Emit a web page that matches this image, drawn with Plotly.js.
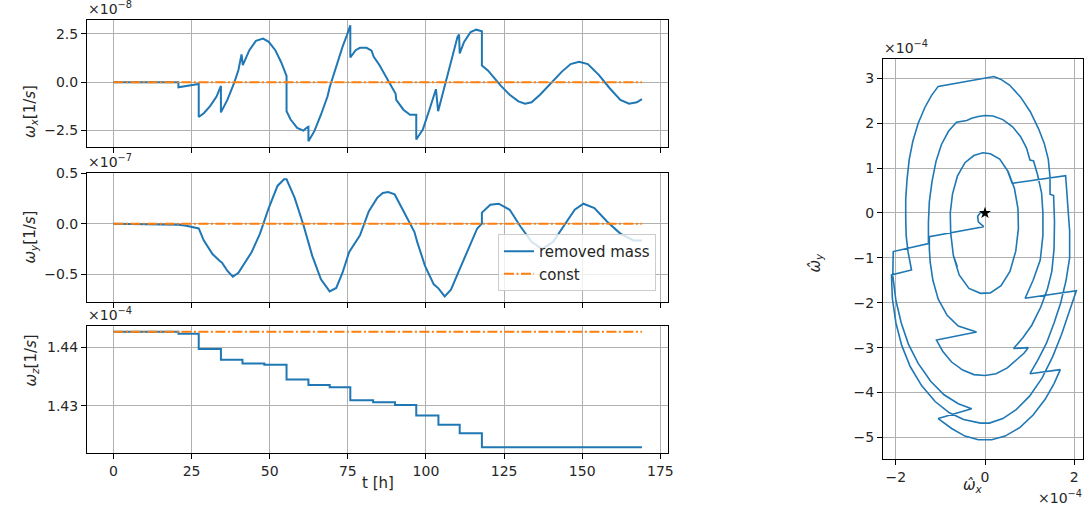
<!DOCTYPE html>
<html><head><meta charset="utf-8">
<script src="https://cdn.plot.ly/plotly-3.0.1.min.js"></script>
<style>body{margin:0;background:#fff}#plot{width:1085px;height:511px}</style>
</head><body><div id="plot"></div>
<script>
// time [h] and omega_x (x1e-8 1/s)
const tX = [0,20.8,20.8,23.3,27.3,27.3,29,31,33,34.4,34.4,36.5,38.6,40,41.0,41.4,43.5,45.6,47.9,49.7,51.8,53.6,54.6,55.4,55.4,56.7,58.8,60.8,62.0,62.4,62.4,64.3,66.4,68.5,69.2,71.2,73.3,74.7,75.8,75.8,77.5,78.9,81,82.6,83.3,85.1,87.2,89.3,90.3,90.5,92.8,94.9,96.9,96.9,99,101.1,103.2,103.9,106,108,110.1,110.6,110.8,112.2,114.3,116.1,117.9,117.9,119.9,121.9,124,126.8,129.6,131.7,133.8,136.5,140,143.5,146.3,149,151.8,155.3,158.8,162.2,165,167.5,169.1];
const wX = [0,0,-0.26,-0.19,-0.09,-1.8,-1.59,-1.22,-0.74,-0.19,-1.56,-0.9,-0.05,0.63,1.44,0.89,1.66,2.14,2.26,2.09,1.66,1.06,0.6,0.33,-1.5,-1.93,-2.36,-2.5,-2.33,-2.3,-3.05,-2.53,-1.68,-0.74,-0.26,0.8,1.83,2.43,2.95,1.28,1.66,1.78,1.78,1.63,1.32,0.89,0.29,-0.36,-0.6,-0.91,-1.42,-1.68,-1.68,-2.96,-2.45,-1.42,-0.36,-1.5,-0.22,1.06,2.35,2.47,1.49,2.09,2.6,2.72,2.64,0.86,0.6,0.21,-0.19,-0.65,-0.99,-1.11,-1.04,-0.65,-0.05,0.55,0.94,1.06,0.94,0.38,-0.31,-0.91,-1.11,-1.04,-0.87];
// omega_y (x1e-7 1/s)
const tY = [0,20.8,23.3,27.3,28.9,31.7,34.2,34.7,36.5,38.2,40,41.4,44.2,46.9,49.7,52.5,54.6,55.4,58,60.8,63.6,66.4,69.2,71.3,73.3,75.4,76.1,78.9,81.7,84.4,86.2,87.9,90,92.8,96.3,97.2,99.7,102.5,104,106,108,110.8,113.6,116.4,117.9,117.9,120.6,123.3,126.8,130.3,133.8,137.2,140.7,144.2,147.6,150.4,153.9,158,162.2,166.4,169.1];
const wY = [0,-0.01,-0.02,-0.047,-0.165,-0.30,-0.374,-0.384,-0.468,-0.525,-0.485,-0.42,-0.283,-0.098,0.155,0.374,0.44,0.44,0.256,-0.013,-0.316,-0.55,-0.67,-0.636,-0.485,-0.283,-0.249,-0.114,0.121,0.256,0.305,0.313,0.29,0.121,-0.08,-0.18,-0.417,-0.60,-0.64,-0.72,-0.653,-0.45,-0.249,-0.047,0.0,0.11,0.188,0.198,0.138,-0.03,-0.18,-0.25,-0.18,-0.013,0.138,0.198,0.155,0.02,-0.098,-0.165,-0.165];
// omega_z (x1e-4 1/s), step changes
const tZ = [0,20.8,27.3,34.4,41.3,48.3,55.4,62.4,69.2,75.8,83.1,90.1,96.9,104.0,110.8,117.9,169.1];
const wZ = [1.44269,1.44234,1.43971,1.43789,1.43726,1.43703,1.43451,1.43354,1.43314,1.43091,1.43057,1.43011,1.42829,1.42674,1.42526,1.42286,1.42286];
// constant reference
const tC = [0,169.1];
const cXY = [0,0];
const cZ = [1.44269,1.44269];
// normalized trajectory omega_hat (x1e-4), read segment by segment between mass-removal events
const pX = [0,-0.10,-0.165,-0.15,-0.03,
 -1.25,-1.25,-1.23,-1.17,-1.05,-0.85,-0.60,-0.19,
 -1.09,-0.95,-0.75,-0.50,-0.25,0,0.25,0.50,0.72,0.88,0.97,
 0.64,0.85,1.05,1.25,1.40,1.50,1.55,1.56,1.54,
 1.46,1.46,1.42,1.33,1.20,1.02,0.80,0.55,0.35,0.20,
 -1.05,-1.20,-1.35,-1.50,-1.62,-1.70,-1.75,-1.78,-1.78,-1.77,-1.73,-1.69,-1.65,
 -2.10,-2.08,-2.00,-1.87,-1.68,-1.42,-1.12,-0.80,-0.48,-0.19,
 -0.10,0.10,0.40,0.70,1.00,1.28,1.52,1.72,1.87,1.97,2.05,
 0.90,1.08,1.24,1.30,1.30,1.27,1.18,1.09,
 1.01,0.93,0.80,0.62,0.40,0.18,0,-0.15,-0.30,
 -0.41,-0.64,-0.82,-0.98,-1.10,-1.19,-1.25,-1.27,-1.27,
 -2.06,-2.07,-2.00,-1.88,-1.72,-1.50,-1.22,-0.92,-0.60,-0.30,
 -1.05,-0.75,-0.45,-0.15,0.15,0.45,0.78,1.08,1.35,1.55,1.69,
 1.01,1.20,1.38,1.55,1.70,1.82,1.90,1.90,1.86,1.81,
 0.61,0.50,0.33,0.12,-0.05,-0.25,-0.45,-0.62,-0.73,-0.78,-0.77,-0.71,-0.58,-0.36,-0.10,0.12,0.36,0.56,0.69,0.75,0.74,0.66,
 0.52,0.33,0.12,-0.05,-0.25,-0.45,-0.62,-0.73,-0.78,-0.77,-0.71,-0.62];
const pY = [0,0.01,-0.07,-0.20,-0.305,
 -0.53,-0.80,-1.10,-1.50,-1.92,-2.28,-2.52,-2.65,
 -2.83,-3.08,-3.32,-3.50,-3.60,-3.62,-3.58,-3.45,-3.27,-3.12,-3.00,
 -3.02,-2.78,-2.50,-2.10,-1.70,-1.30,-0.80,-0.20,0.39,
 0.42,0.80,1.20,1.55,1.88,2.25,2.58,2.85,2.98,3.04,
 2.82,2.62,2.35,2.00,1.60,1.20,0.75,0.30,-0.10,-0.50,-0.85,-1.05,-1.27,
 -1.38,-1.90,-2.45,-2.95,-3.42,-3.85,-4.20,-4.45,-4.60,-4.66,
 -4.68,-4.68,-4.58,-4.38,-4.08,-3.68,-3.20,-2.70,-2.25,-1.95,-1.73,
 -1.90,-1.50,-1.05,-0.50,0.0,0.45,0.85,1.16,
 1.18,1.45,1.70,1.92,2.08,2.16,2.17,2.15,2.11,
 2.06,2.02,1.82,1.52,1.15,0.70,0.25,-0.20,-0.68,
 -0.86,-1.40,-1.95,-2.45,-2.92,-3.35,-3.75,-4.05,-4.25,-4.36,
 -4.58,-4.80,-4.97,-5.05,-5.05,-4.97,-4.78,-4.50,-4.15,-3.80,-3.49,
 -3.58,-3.25,-2.90,-2.45,-2.00,-1.50,-1.00,-0.40,0.20,0.83,
 0.66,0.95,1.20,1.32,1.34,1.28,1.12,0.82,0.42,0.0,-0.45,-0.95,-1.38,-1.68,-1.79,-1.78,-1.62,-1.30,-0.85,-0.35,0.10,0.55,
 0.92,1.20,1.32,1.34,1.28,1.12,0.82,0.42,0.0,-0.45,-0.95,-1.20];
const startX = [0], startY = [0];

const BLUE='#1f77b4', ORANGE='#ff7f0e';
const F = {family:'DejaVu Sans, sans-serif', size:14, color:'#262626'};
const FT = {family:'DejaVu Sans, sans-serif', size:15, color:'#262626'};
const W=1085,H=511;
const px = v=>v/W, py = v=>1-v/H;
const dd = '10px,2.5px,2px,2.5px';
const traces = [
 {x:tX,y:wX,xaxis:'x',yaxis:'y',mode:'lines',line:{color:BLUE,width:2},showlegend:false},
 {x:tC,y:cXY,xaxis:'x',yaxis:'y',mode:'lines',line:{color:ORANGE,width:2,dash:dd},showlegend:false},
 {x:tY,y:wY,xaxis:'x2',yaxis:'y2',mode:'lines',line:{color:BLUE,width:2},name:'removed mass'},
 {x:tC,y:cXY,xaxis:'x2',yaxis:'y2',mode:'lines',line:{color:ORANGE,width:2,dash:dd},name:'const'},
 {x:tZ,y:wZ,xaxis:'x3',yaxis:'y3',mode:'lines',line:{color:BLUE,width:2,shape:'hv'},showlegend:false},
 {x:tC,y:cZ,xaxis:'x3',yaxis:'y3',mode:'lines',line:{color:ORANGE,width:2,dash:dd},showlegend:false},
 {x:pX,y:pY,xaxis:'x4',yaxis:'y4',mode:'lines',line:{color:BLUE,width:1.6},showlegend:false},
 {x:startX,y:startY,xaxis:'x4',yaxis:'y4',mode:'markers',marker:{symbol:'star',color:'black',size:9},showlegend:false}
];
const ax = (o)=>Object.assign({showline:true,mirror:true,linecolor:'black',linewidth:1,ticks:'outside',ticklen:5,tickcolor:'black',
  showgrid:true,gridcolor:'#b0b0b0',gridwidth:1,zeroline:false,tickfont:F},o);
const tx = {range:[-8.45,177.45],tickvals:[0,25,50,75,100,125,150,175]};
const layout = {
 width:W,height:H,margin:{l:0,r:0,t:0,b:0},paper_bgcolor:'#fff',plot_bgcolor:'#fff',font:F,
 xaxis: ax(Object.assign({domain:[px(87),px(668)],anchor:'y',showticklabels:false},tx)),
 yaxis: ax({domain:[py(147),py(20)],anchor:'x',range:[-3.35,3.22],tickvals:[-2.5,0,2.5],ticktext:['\u22122.5','0.0','2.5']}),
 xaxis2: ax(Object.assign({domain:[px(87),px(668)],anchor:'y2',showticklabels:false},tx)),
 yaxis2: ax({domain:[py(302),py(173)],anchor:'x2',range:[-0.775,0.502],tickvals:[-0.5,0,0.5],ticktext:['\u22120.5','0.0','0.5']}),
 xaxis3: ax(Object.assign({domain:[px(87),px(668)],anchor:'y3',ticktext:['0','25','50','75','100','125','150','175']},tx)),
 yaxis3: ax({domain:[py(453),py(326)],anchor:'x3',range:[1.42187,1.44368],tickvals:[1.43,1.44],ticktext:['1.43','1.44']}),
 xaxis4: ax({domain:[px(883),px(1083)],anchor:'y4',range:[-2.29,2.20],tickvals:[-2,0,2],ticktext:['\u22122','0','2']}),
 yaxis4: ax({domain:[py(459),py(59)],anchor:'x4',range:[-5.48,3.43],tickvals:[-5,-4,-3,-2,-1,0,1,2,3],ticktext:['\u22125','\u22124','\u22123','\u22122','\u22121','0','1','2','3']}),
 legend:{x:px(656),xanchor:'right',y:py(291),yanchor:'bottom',bgcolor:'rgba(255,255,255,0.8)',bordercolor:'#cccccc',borderwidth:1,font:FT,tracegroupgap:0},
 annotations:[
  {text:'\u00d710<sup>\u22128</sup>',x:px(86),y:py(8),xref:'paper',yref:'paper',xanchor:'left',yanchor:'middle',showarrow:false,font:F},
  {text:'\u00d710<sup>\u22127</sup>',x:px(86),y:py(161),xref:'paper',yref:'paper',xanchor:'left',yanchor:'middle',showarrow:false,font:F},
  {text:'\u00d710<sup>\u22124</sup>',x:px(86),y:py(314),xref:'paper',yref:'paper',xanchor:'left',yanchor:'middle',showarrow:false,font:F},
  {text:'\u00d710<sup>\u22124</sup>',x:px(882),y:py(47),xref:'paper',yref:'paper',xanchor:'left',yanchor:'middle',showarrow:false,font:F},
  {text:'\u00d710<sup>\u22124</sup>',x:px(1084),y:py(497),xref:'paper',yref:'paper',xanchor:'right',yanchor:'middle',showarrow:false,font:F},
  {text:'<i>\u03c9</i><sub><i>x</i></sub>[1/<i>s</i>]',x:px(19),y:py(83),xref:'paper',yref:'paper',textangle:-90,showarrow:false,font:FT},
  {text:'<i>\u03c9</i><sub><i>y</i></sub>[1/<i>s</i>]',x:px(19),y:py(237),xref:'paper',yref:'paper',textangle:-90,showarrow:false,font:FT},
  {text:'<i>\u03c9</i><sub><i>z</i></sub>[1/<i>s</i>]',x:px(19),y:py(389),xref:'paper',yref:'paper',textangle:-90,showarrow:false,font:FT},
  {text:'t [h]',x:px(378),y:py(494),xref:'paper',yref:'paper',showarrow:false,font:FT},
  {text:'<i>\u03c9\u0302</i><sub><i>y</i></sub>',x:px(826),y:py(262),xref:'paper',yref:'paper',textangle:-90,showarrow:false,font:FT},
  {text:'<i>\u03c9\u0302</i><sub><i>x</i></sub>',x:px(985),y:py(497),xref:'paper',yref:'paper',showarrow:false,font:FT}
 ]
};
Plotly.newPlot('plot',traces,layout,{staticPlot:true});
</script></body></html>
